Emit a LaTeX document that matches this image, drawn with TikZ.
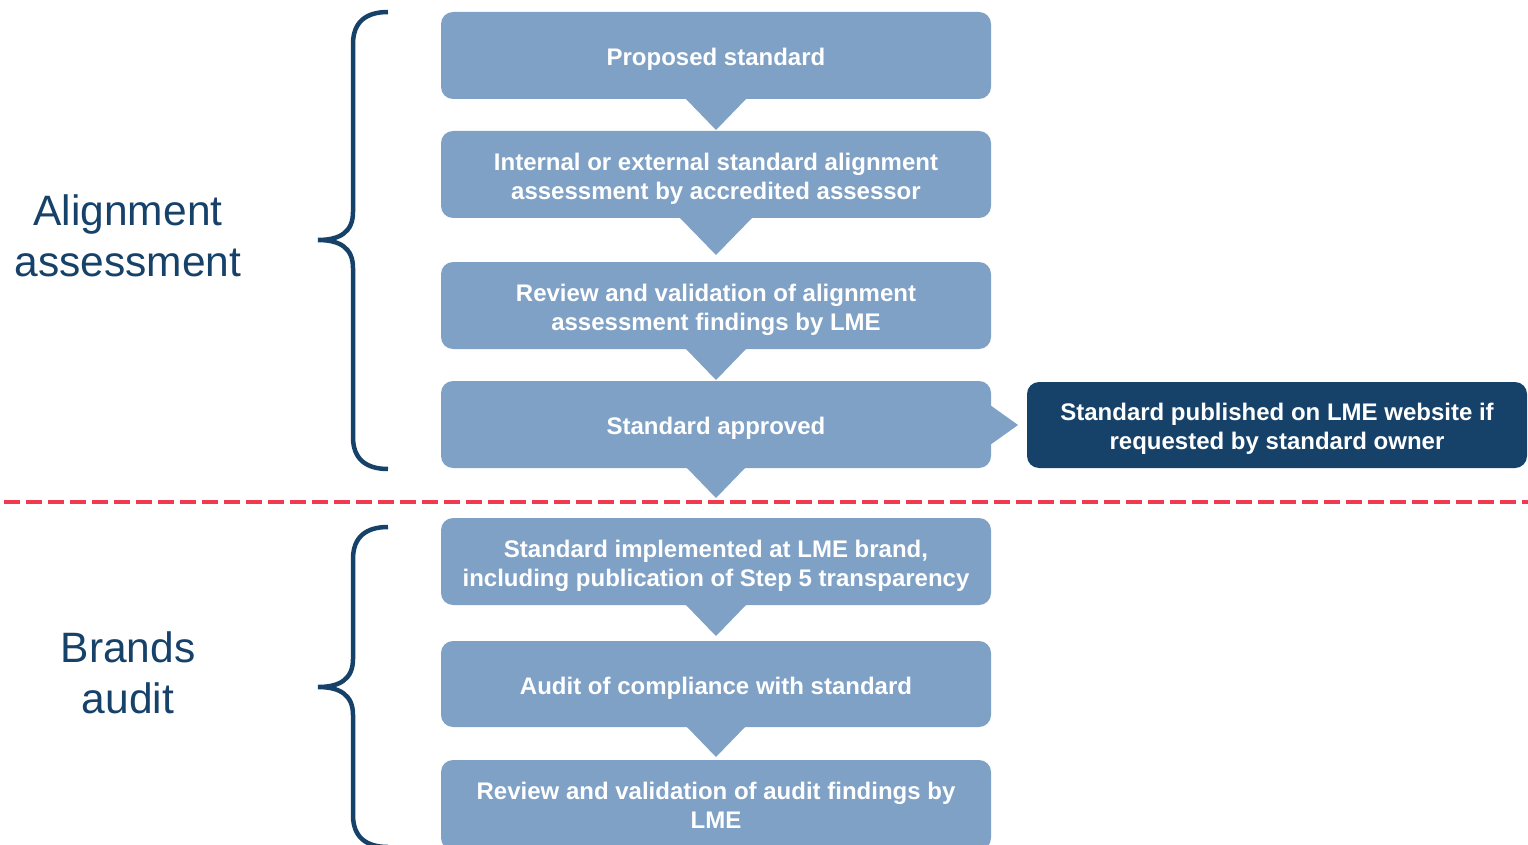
\documentclass[tikz,border=0pt]{standalone}
\usepackage{fontspec}
\setmainfont{Liberation Sans}
\definecolor{lightblue}{HTML}{7FA1C6}
\definecolor{navy}{HTML}{16426A}
\definecolor{dashred}{HTML}{F03A4F}
\newcommand\lmestep[5]{% name, top, height, pointer half-width, text
  \fill[lightblue, rounded corners=12pt] (441,#2) rectangle (991,{#2+#3});
  \node[steptext] (#1) at (716,{#2+#3/2+4}) {#5};
  \fill[lightblue] ({716-#4},{#2+#3-1}) -- ({716+#4},{#2+#3-1}) -- (716,{#2+#3+#4}) -- cycle;
}
\begin{document}
\begin{tikzpicture}[x=1pt,y=-1pt,
  steptext/.style={inner sep=0pt, text=white, align=center, font=\bfseries\fontsize{24}{29}\selectfont},
  biglabel/.style={text=navy, align=center, font=\fontsize{42.5}{51}\selectfont},
  bracestyle/.style={draw=navy, line width=4.5pt, line cap=butt, fill=none}]
\useasboundingbox (0,0) rectangle (1528,845);
\fill[white] (0,0) rectangle (1528,845);

% step boxes with downward pointers
\lmestep{b1}{12}{87}{31}{Proposed standard}
\lmestep{b2}{131}{87}{37}{Internal or external standard alignment\\assessment by accredited assessor}
\lmestep{b3}{262}{87}{31}{Review and validation of alignment\\assessment findings by LME}
\lmestep{b4}{381}{87}{30}{Standard approved}
\lmestep{b5}{518}{87}{31}{Standard implemented at LME brand,\\including publication of Step 5 transparency}
\lmestep{b6}{641}{86}{30}{Audit of compliance with standard}
\fill[lightblue, rounded corners=12pt] (441,760) rectangle (991,850);
\node[steptext] (b7) at (716,805) {Review and validation of audit findings by\\LME};

% right pointer and published box
\fill[lightblue] (990,405) -- (990,445) -- (1018,425) -- cycle;
\fill[navy, rounded corners=12pt] (1027,382) rectangle (1527,468);
\node[steptext] (pub) at (1277,429) {Standard published on LME website if\\requested by standard owner};

% red dashed separator
\coordinate (dl) at (4,502);
\coordinate (dr) at (1528,502);
\draw[dashred, line width=4pt, dash pattern=on 16pt off 6pt] (dl) -- (dr);

% braces
\draw[bracestyle] (388,12) .. controls (366,12) and (353,22) .. (353,44)
  -- (353,212) .. controls (353,232) and (340,240) .. (318,240)
  .. controls (340,240) and (353,248) .. (353,268)
  -- (353,437) .. controls (353,459) and (366,469) .. (388,469);
\draw[bracestyle] (388,527) .. controls (366,527) and (353,537) .. (353,559)
  -- (353,659) .. controls (353,679) and (340,687) .. (318,687)
  .. controls (340,687) and (353,695) .. (353,715)
  -- (353,815) .. controls (353,837) and (366,847) .. (388,847);

% labels
\node[biglabel] (la) at (128,236) {Alignment\\assessment};
\node[biglabel] (lb) at (128,673) {Brands\\audit};
\end{tikzpicture}
\end{document}
